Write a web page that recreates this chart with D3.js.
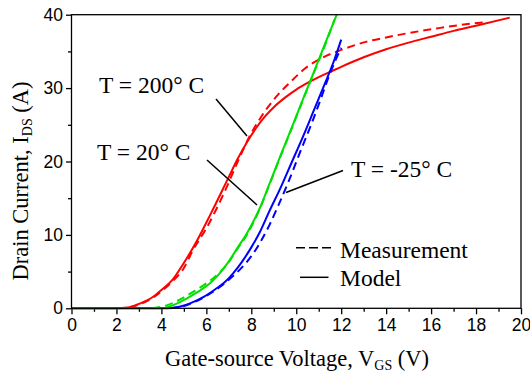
<!DOCTYPE html>
<html>
<head>
<meta charset="utf-8">
<script src="https://cdn.jsdelivr.net/npm/d3@7"></script>
<style>
  body { margin: 0; background: white; }
</style>
</head>
<body>
<div id="canvas"></div>
<script>
"use strict"

// data: gate voltage (V) and drain current (A)
let redModelV = [0, 2.0, 2.5, 3.0, 3.6, 4.0, 4.5, 4.9, 5.6, 6.2, 7.0, 7.4, 7.8, 8.2, 8.6, 9.0, 9.5, 10.0, 10.5, 11.0, 11.5, 12.0, 13.0, 14.0, 15.0, 16.0, 17.0, 18.0, 19.5];
let redModelI = [0, 0, 0.1, 0.6, 1.5, 2.5, 3.9, 5.7, 9.3, 12.9, 17.9, 20.4, 22.6, 24.5, 26.1, 27.4, 28.7, 29.8, 30.7, 31.5, 32.2, 32.9, 34.2, 35.3, 36.2, 37.0, 37.8, 38.5, 39.6];
let redMeasV = [2.6, 3.0, 3.6, 4.0, 4.5, 5.0, 5.4, 6.0, 6.8, 7.4, 7.9, 8.4, 9.1, 9.7, 10.4, 11.2, 12.0, 13.1, 14.0, 15.0, 16.2, 17.3, 18.5];
let redMeasI = [0.1, 0.5, 1.4, 2.3, 3.7, 5.5, 7.9, 10.9, 15.8, 20.0, 23.3, 25.9, 28.8, 30.7, 32.7, 34.2, 35.2, 36.3, 36.9, 37.5, 38.1, 38.6, 39.0];

let greenModelV = [0, 4.0, 4.5, 5.1, 5.6, 6.2, 6.6, 7.0, 7.4, 7.8, 8.4, 8.8, 9.3, 9.8, 10.3, 10.8, 11.3, 11.8];
let greenModelI = [0, 0, 0.4, 1.3, 2.2, 3.5, 4.8, 6.4, 8.3, 10.2, 13.8, 16.9, 20.8, 24.6, 28.5, 32.3, 36.2, 40];
let greenMeasV = [3.6, 4.0, 4.5, 5.0, 5.5, 6.0, 6.6, 7.0, 7.4, 7.8, 8.4, 8.8, 9.3, 9.8, 10.3, 10.8, 11.3, 11.7];
let greenMeasI = [0, 0.2, 0.7, 1.5, 2.4, 3.4, 4.9, 6.3, 8.2, 10.0, 13.7, 16.8, 20.7, 24.5, 28.4, 32.2, 36.0, 39.3];

let blueModelV = [0, 4.3, 4.8, 5.3, 5.9, 6.4, 6.8, 7.2, 7.6, 8.0, 8.4, 8.8, 9.3, 9.8, 10.3, 10.8, 11.3, 11.7, 12.0];
let blueModelI = [0, 0, 0.2, 0.7, 1.6, 2.6, 3.5, 4.8, 6.4, 8.3, 10.5, 13.2, 16.4, 19.9, 23.4, 27.1, 30.8, 33.9, 36.6];
let blueMeasV = [4.4, 5.0, 5.5, 6.0, 6.6, 7.0, 7.5, 8.0, 8.4, 8.8, 9.2, 9.7, 10.2, 10.7, 11.1, 11.5, 12.0];
let blueMeasI = [0, 0.3, 0.9, 1.7, 2.9, 3.9, 5.3, 7.1, 9.0, 11.3, 14.0, 17.6, 21.5, 25.3, 28.6, 32.0, 35.5];

let xMajor = [0, 2, 4, 6, 8, 10, 12, 14, 16, 18, 20];
let xMinor = [1, 3, 5, 7, 9, 11, 13, 15, 17, 19];
let yMajor = [0, 10, 20, 30, 40];
let yMinor = [5, 15, 25, 35];

let drawingWidth = 530;
let drawingHeight = 379;

let serif = "'Liberation Serif', 'Times New Roman', serif";
let sans = "'Liberation Sans', Arial, sans-serif";

let drawing = d3.select("#canvas")
    .append("svg")
    .attr("width", drawingWidth)
    .attr("height", drawingHeight);

let x = d3.scaleLinear().domain([0, 20]).range([71.5, 521]);
let y = d3.scaleLinear().domain([0, 40]).range([308.3, 14.7]);

// axes
let xAxis = drawing.append("g")
    .attr("transform", "translate(0," + y(0) + ")")
    .call(d3.axisBottom(x).tickValues(xMajor).tickSize(6).tickPadding(4));
let xAxisMinor = drawing.append("g")
    .attr("transform", "translate(0," + y(0) + ")")
    .call(d3.axisBottom(x).tickValues(xMinor).tickSize(3.5).tickFormat(""));
let yAxis = drawing.append("g")
    .attr("transform", "translate(" + x(0) + ",0)")
    .call(d3.axisLeft(y).tickValues(yMajor).tickSize(5.5).tickPadding(3));
let yAxisMinor = drawing.append("g")
    .attr("transform", "translate(" + x(0) + ",0)")
    .call(d3.axisLeft(y).tickValues(yMinor).tickSize(3.5).tickFormat(""));

drawing.selectAll(".domain").remove();
drawing.selectAll(".tick line").attr("stroke", "black").attr("stroke-width", 1.3);
drawing.selectAll(".tick text")
    .attr("fill", "black")
    .style("font-family", sans)
    .style("font-size", "17.5px");

// curves
let line = d3.line()
    .x(d => x(d[0]))
    .y(d => y(d[1]))
    .curve(d3.curveMonotoneX);

function pairs(vs, is) {
    return vs.map((v, i) => [v, is[i]]);
}

let curves = [
    {v: redMeasV, i: redMeasI, color: "#ff0000", dash: "8,5"},
    {v: redModelV, i: redModelI, color: "#ff0000", dash: null},
    {v: blueMeasV, i: blueMeasI, color: "#0000ff", dash: "8,5"},
    {v: blueModelV, i: blueModelI, color: "#0000ff", dash: null},
    {v: greenMeasV, i: greenMeasI, color: "#00e000", dash: "8,5"},
    {v: greenModelV, i: greenModelI, color: "#00e000", dash: null}
];

curves.forEach(c => {
    drawing.append("path")
        .attr("d", line(pairs(c.v, c.i)))
        .attr("fill", "none")
        .attr("stroke", c.color)
        .attr("stroke-width", 2)
        .attr("stroke-dasharray", c.dash);
});

// frame
let frame = drawing.append("rect")
    .attr("x", x(0))
    .attr("y", y(40))
    .attr("width", x(20) - x(0))
    .attr("height", y(0) - y(40))
    .attr("fill", "none")
    .attr("stroke", "black")
    .attr("stroke-width", 1.3);

// annotations
function label(tx, ty, str) {
    drawing.append("text")
        .attr("x", tx)
        .attr("y", ty)
        .style("font-family", serif)
        .style("font-size", "23.5px")
        .text(str);
}

function pointer(x1, y1, x2, y2) {
    drawing.append("line")
        .attr("x1", x1).attr("y1", y1)
        .attr("x2", x2).attr("y2", y2)
        .attr("stroke", "black")
        .attr("stroke-width", 1.5);
}

label(99, 93, "T = 200\u00b0 C");
pointer(216, 99, 247, 136);
label(97, 160, "T = 20\u00b0 C");
pointer(207, 160, 257, 205);
label(351, 177, "T = -25\u00b0 C");
pointer(343, 170.5, 286, 192.5);

// legend
drawing.append("line")
    .attr("x1", 296).attr("y1", 247.7)
    .attr("x2", 331).attr("y2", 247.7)
    .attr("stroke", "black")
    .attr("stroke-width", 1.5)
    .attr("stroke-dasharray", "9,4");
label(340, 258, "Measurement");
drawing.append("line")
    .attr("x1", 300).attr("y1", 277.3)
    .attr("x2", 328.5).attr("y2", 277.3)
    .attr("stroke", "black")
    .attr("stroke-width", 1.5);
label(340, 286, "Model");

// axis titles
let xTitle = drawing.append("text")
    .attr("x", 297)
    .attr("y", 366)
    .attr("text-anchor", "middle")
    .style("font-family", serif)
    .style("font-size", "22.5px");
xTitle.append("tspan").text("Gate-source Voltage, V");
xTitle.append("tspan").attr("dy", 4).style("font-size", "14px").text("GS");
xTitle.append("tspan").attr("dy", -4).text(" (V)");

let yTitle = drawing.append("text")
    .attr("transform", "translate(28,181) rotate(-90)")
    .attr("text-anchor", "middle")
    .style("font-family", serif)
    .style("font-size", "22.5px");
yTitle.append("tspan").text("Drain Current, I");
yTitle.append("tspan").attr("dy", 4).style("font-size", "14px").text("DS");
yTitle.append("tspan").attr("dy", -4).text(" (A)");
</script>
</body>
</html>
